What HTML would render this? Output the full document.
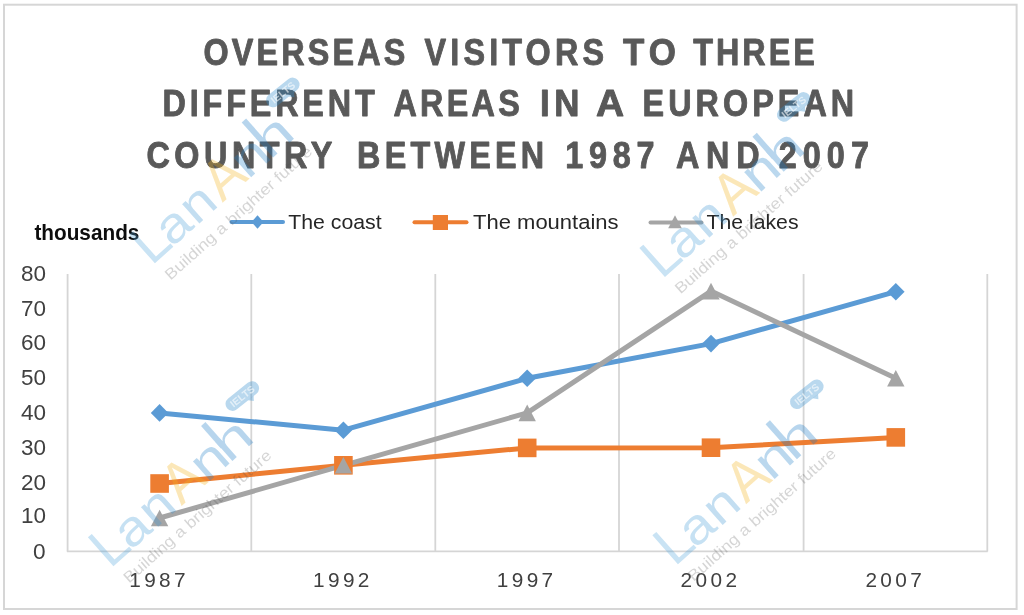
<!DOCTYPE html>
<html>
<head>
<meta charset="utf-8">
<title>Overseas visitors chart</title>
<style>
html,body{margin:0;padding:0;background:#ffffff;}
body{width:1024px;height:615px;overflow:hidden;font-family:"Liberation Sans",sans-serif;}
svg{display:block;filter:blur(0.45px);}
.t{font-family:"Liberation Sans",sans-serif;font-weight:bold;font-size:36.75px;fill:#595959;stroke:#595959;stroke-width:0.9px;stroke-linejoin:round;}
.ax{font-family:"Liberation Sans",sans-serif;font-size:21.5px;fill:#404040;}
.lg{font-family:"Liberation Sans",sans-serif;font-size:20.5px;fill:#262626;}
</style>
</head>
<body>
<svg width="1024" height="615" viewBox="0 0 1024 615">
<defs>
  <g id="wm">
    <g font-family="Liberation Sans, sans-serif" opacity="0.31">
      <text x="-4" y="0" font-size="56" fill="#54a6dc">L</text>
      <text transform="translate(23.5,0) scale(1.16,1)" font-size="49" fill="#4a9fd9">a</text>
      <text transform="translate(56.2,0) scale(1.16,1)" font-size="49" fill="#3f96d4">n</text>
      <text x="91.3" y="0" font-size="57" fill="#f5b41e" textLength="36.5" lengthAdjust="spacingAndGlyphs">A</text>
      <text transform="translate(125.3,0) scale(1.25,1)" font-size="49" fill="#2684cb">n</text>
      <g fill="#1b7bc7">
      <text transform="translate(154.7,0) scale(1.35,1)" font-size="49">n</text>
      <rect x="159" y="-47" width="5.9" height="30"/>
      </g>
    </g>
    <g transform="translate(209.7,-42) rotate(3)">
      <rect x="-19.5" y="-7" width="39" height="14" rx="7" fill="#328ccd" fill-opacity="0.34"/>
      <path d="M2 6.8 L6 11 L9 6.8 Z" fill="#328ccd" fill-opacity="0.34"/>
      <text x="0" y="3.6" text-anchor="middle" font-family="Liberation Sans, sans-serif" font-size="10" font-weight="bold" fill="#ffffff" fill-opacity="0.6" textLength="28" lengthAdjust="spacingAndGlyphs">IELTS</text>
    </g>
    <text x="0.5" y="23.5" font-family="Liberation Sans, sans-serif" font-size="15.5" fill="#505050" fill-opacity="0.24" textLength="191.5" lengthAdjust="spacingAndGlyphs">Building a brighter future</text>
  </g>
</defs>
<rect x="0" y="0" width="1024" height="615" fill="#ffffff"/>
<!-- outer border -->
<rect x="4" y="4.7" width="1012.6" height="604.3" fill="none" stroke="#d6d6d6" stroke-width="2"/>

<!-- title -->
<g class="t">
<text transform="translate(203.5,64.9) scale(0.88,1)" textLength="229.5" lengthAdjust="spacing">OVERSEAS</text>
<text transform="translate(424.5,64.9) scale(0.88,1)" textLength="204.0" lengthAdjust="spacing">VISITORS</text>
<text transform="translate(622.9,64.9) scale(0.95,1)" textLength="55.8" lengthAdjust="spacing">TO</text>
<text transform="translate(693.2,64.9) scale(0.88,1)" textLength="138.3" lengthAdjust="spacing">THREE</text>
<text transform="translate(162.5,115.9) scale(0.88,1)" textLength="241.2" lengthAdjust="spacing">DIFFERENT</text>
<text transform="translate(393.5,115.9) scale(0.88,1)" textLength="143.5" lengthAdjust="spacing">AREAS</text>
<text transform="translate(540.0,115.9) scale(0.95,1)" textLength="41.6" lengthAdjust="spacing">IN</text>
<text transform="translate(595.9,115.9) scale(1.059,1)">A</text>
<text transform="translate(642.5,115.9) scale(0.88,1)" textLength="240.6" lengthAdjust="spacing">EUROPEAN</text>
<text transform="translate(146.5,167.7) scale(0.88,1)" textLength="211.1" lengthAdjust="spacing">COUNTRY</text>
<text transform="translate(357.1,167.7) scale(0.88,1)" textLength="212.6" lengthAdjust="spacing">BETWEEN</text>
<text transform="translate(565.3,167.7) scale(0.88,1)" textLength="101.3" lengthAdjust="spacing">1987</text>
<text transform="translate(675.9,167.7) scale(0.88,1)" textLength="95.0" lengthAdjust="spacing">AND</text>
<text transform="translate(778.7,167.7) scale(0.88,1)" textLength="102.5" lengthAdjust="spacing">2007</text>
</g>

<!-- thousands -->
<text x="34.4" y="239.8" font-family="Liberation Sans, sans-serif" font-weight="bold" font-size="21.5" fill="#0d0d0d" textLength="105" lengthAdjust="spacingAndGlyphs">thousands</text>

<!-- legend -->
<g>
<line x1="231.5" y1="222" x2="283" y2="222" stroke="#5b9bd5" stroke-width="4" stroke-linecap="round"/>
<path d="M257.5 215.2 L263.5 222 L257.5 228.8 L251.5 222 Z" fill="#5b9bd5"/>
<text class="lg" x="288.2" y="229.3" textLength="93.5" lengthAdjust="spacingAndGlyphs">The coast</text>

<line x1="414.5" y1="222.3" x2="466.5" y2="222.3" stroke="#ed7d31" stroke-width="4" stroke-linecap="round"/>
<rect x="432.8" y="215" width="15.2" height="15" fill="#ed7d31"/>
<text class="lg" x="473" y="229.3" textLength="145.6" lengthAdjust="spacingAndGlyphs">The mountains</text>

<line x1="650.5" y1="222.5" x2="701.5" y2="222.5" stroke="#a5a5a5" stroke-width="4" stroke-linecap="round"/>
<path d="M675 215.2 L681.8 228.3 L668.2 228.3 Z" fill="#a5a5a5"/>
<text class="lg" x="706.5" y="229.3" textLength="92" lengthAdjust="spacingAndGlyphs">The lakes</text>
</g>

<!-- gridlines -->
<g stroke="#d5d5d5" stroke-width="1.8" fill="none">
<line x1="67.6" y1="274" x2="67.6" y2="551.5"/>
<line x1="251.3" y1="274" x2="251.3" y2="551.5"/>
<line x1="435.3" y1="274" x2="435.3" y2="551.5"/>
<line x1="619.0" y1="274" x2="619.0" y2="551.5"/>
<line x1="803.6" y1="274" x2="803.6" y2="551.5"/>
<line x1="987.3" y1="274" x2="987.3" y2="551.5"/>
<line x1="66.9" y1="551.3" x2="987.7" y2="551.3"/>
</g>

<!-- y labels -->
<g class="ax">
<text x="21" y="280.6" textLength="25" lengthAdjust="spacingAndGlyphs">80</text>
<text x="21" y="315.5" textLength="25" lengthAdjust="spacingAndGlyphs">70</text>
<text x="21" y="350.3" textLength="25" lengthAdjust="spacingAndGlyphs">60</text>
<text x="21" y="385.2" textLength="25" lengthAdjust="spacingAndGlyphs">50</text>
<text x="21" y="420.0" textLength="25" lengthAdjust="spacingAndGlyphs">40</text>
<text x="21" y="454.9" textLength="25" lengthAdjust="spacingAndGlyphs">30</text>
<text x="21" y="489.7" textLength="25" lengthAdjust="spacingAndGlyphs">20</text>
<text x="21" y="523.4" textLength="25" lengthAdjust="spacingAndGlyphs">10</text>
<text x="33" y="559.4" textLength="12.6" lengthAdjust="spacingAndGlyphs">0</text>
</g>
<!-- x labels -->
<g class="ax">
<text x="129.2" y="586.7" font-size="20.8" textLength="56.4" lengthAdjust="spacing">1987</text>
<text x="313.0" y="586.7" font-size="20.8" textLength="56.4" lengthAdjust="spacing">1992</text>
<text x="496.8" y="586.7" font-size="20.8" textLength="56.4" lengthAdjust="spacing">1997</text>
<text x="680.6" y="586.7" font-size="20.8" textLength="56.4" lengthAdjust="spacing">2002</text>
<text x="865.4" y="586.7" font-size="20.8" textLength="56.4" lengthAdjust="spacing">2007</text>
</g>

<!-- series -->
<g fill="none" stroke-linejoin="round" stroke-linecap="round" stroke-width="5">
<polyline stroke="#5b9bd5" points="159.6,412.9 343.4,430.2 527.2,378.3 711.0,343.6 895.8,291.7"/>
<polyline stroke="#ed7d31" points="159.6,483.5 343.4,465.3 527.2,447.9 711.0,447.7 895.8,437.4"/>
<polyline stroke="#a5a5a5" points="159.6,518.0 343.4,465.3 527.2,412.9 711.0,291.1 895.8,378.3"/>
</g>
<!-- markers -->
<g fill="#5b9bd5">
<path d="M159.6 404.1 l8.8 8.8 l-8.8 8.8 l-8.8 -8.8 z"/>
<path d="M343.4 421.4 l8.8 8.8 l-8.8 8.8 l-8.8 -8.8 z"/>
<path d="M527.2 369.5 l8.8 8.8 l-8.8 8.8 l-8.8 -8.8 z"/>
<path d="M711.0 334.8 l8.8 8.8 l-8.8 8.8 l-8.8 -8.8 z"/>
<path d="M895.8 282.9 l8.8 8.8 l-8.8 8.8 l-8.8 -8.8 z"/>
</g>
<g fill="#ed7d31">
<rect x="150.3" y="474.2" width="18.6" height="18.6"/>
<rect x="334.1" y="456.0" width="18.6" height="18.6"/>
<rect x="517.9" y="438.6" width="18.6" height="18.6"/>
<rect x="701.7" y="438.4" width="18.6" height="18.6"/>
<rect x="886.5" y="428.1" width="18.6" height="18.6"/>
</g>
<g fill="#a5a5a5">
<path d="M159.6 509.7 l8.7 16.6 l-17.4 0 z"/>
<path d="M343.4 457.0 l8.7 16.6 l-17.4 0 z"/>
<path d="M527.2 404.6 l8.7 16.6 l-17.4 0 z"/>
<path d="M711.0 282.8 l8.7 16.6 l-17.4 0 z"/>
<path d="M895.8 370.0 l8.7 16.6 l-17.4 0 z"/>
</g>

<!-- watermarks -->
<g>
<use href="#wm" transform="translate(154.5,263.5) rotate(-41.8)"/>
<use href="#wm" transform="translate(664.5,277.3) rotate(-41.5)"/>
<use href="#wm" transform="translate(113.1,566.5) rotate(-41.5)"/>
<use href="#wm" transform="translate(677.6,564.7) rotate(-41.5)"/>
</g>
</svg>
</body>
</html>
